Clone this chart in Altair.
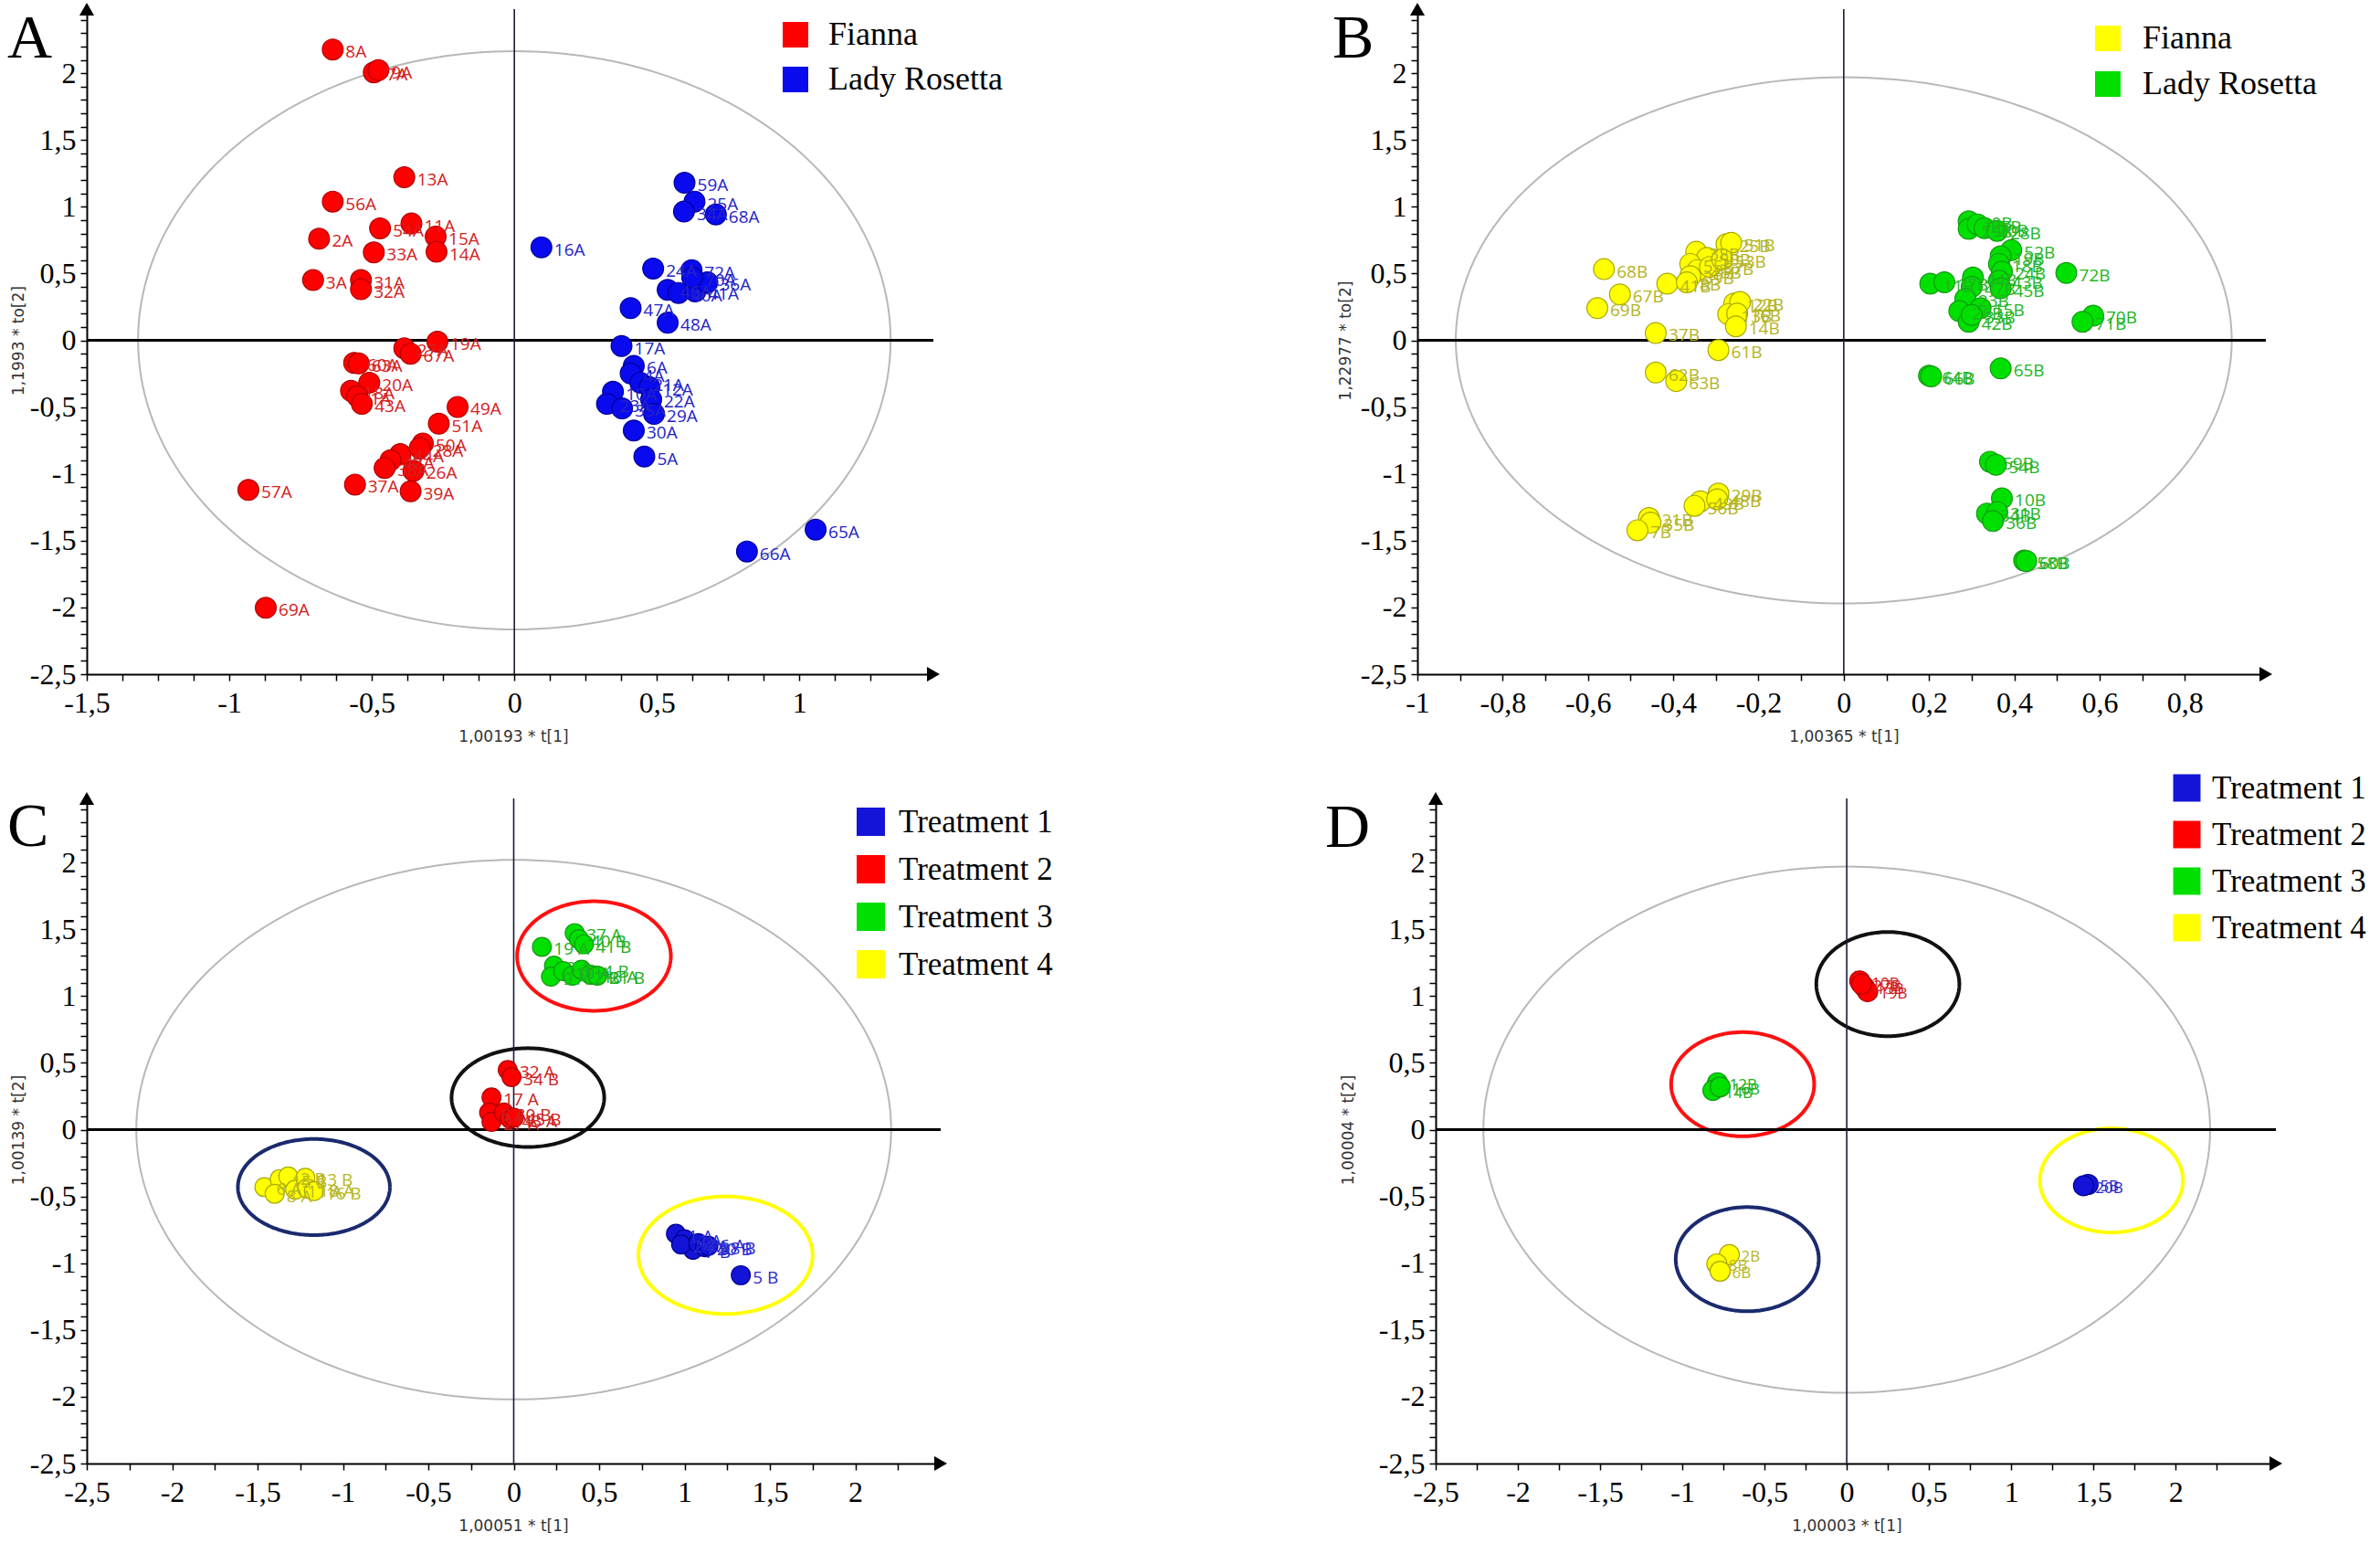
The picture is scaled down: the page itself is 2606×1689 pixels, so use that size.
import altair as alt
import numpy as np
import pandas as pd

# ---------------- Panel A ----------------
A_groups = ["Fianna", "Lady Rosetta"]
A_fill = ["#ff0000", "#0a0aee"]
A_stroke = ["#b00000", "#000099"]
A_text = ["#d42020", "#2424c8"]
A_fi_lab = ["8A","7A","9A","13A","56A","54A","11A","15A","14A","2A","33A","3A","31A","32A",
            "19A","27A","67A","60A","63A","20A","18A","1A","43A","49A","51A","50A","28A","44A","42A","38A","26A","37A","39A","57A","69A"]
A_fi_x = [-0.637,-0.493,-0.477,-0.386,-0.637,-0.471,-0.361,-0.276,-0.273,-0.685,-0.493,-0.706,-0.538,-0.538,
          -0.27,-0.386,-0.364,-0.562,-0.546,-0.509,-0.573,-0.551,-0.535,-0.199,-0.265,-0.321,-0.332,-0.40,-0.434,-0.455,-0.354,-0.559,-0.364,-0.933,-0.872]
A_fi_y = [2.178,2.007,2.023,1.221,1.039,0.839,0.875,0.777,0.663,0.761,0.658,0.451,0.451,0.383,
          -0.01,-0.06,-0.10,-0.169,-0.173,-0.317,-0.378,-0.419,-0.476,-0.499,-0.624,-0.772,-0.807,-0.852,-0.898,-0.955,-0.977,-1.08,-1.13,-1.12,-2.003]
A_lr_lab = ["59A","25A","34A","68A","16A","24A","72A","46A","40A","41A","36A","70A","47A","48A","17A","6A","4A","21A","12A","10A","23A","35A","22A","29A","30A","5A","65A","66A"]
A_lr_x = [0.597,0.632,0.595,0.707,0.095,0.487,0.622,0.538,0.576,0.635,0.677,0.624,0.408,0.538,0.376,0.419,0.408,0.442,0.474,0.346,0.325,0.378,0.48,0.49,0.419,0.456,1.057,0.816]
A_lr_y = [1.180,1.039,0.964,0.943,0.697,0.538,0.526,0.378,0.355,0.367,0.435,0.47,0.241,0.132,-0.043,-0.191,-0.248,-0.317,-0.351,-0.385,-0.476,-0.51,-0.442,-0.551,-0.675,-0.870,-1.417,-1.581]

# ---------------- Panel B ----------------
B_groups = ["Fianna", "Lady Rosetta"]
B_fill = ["#ffff00", "#00e000"]
B_stroke = ["#a8a800", "#119911"]
B_text = ["#b4b41e", "#1fb51f"]
B_fi_lab = ["68B","67B","69B","41B","25B","51B","38B","50B","55B","46B","39B","8B","57B","53B","12B","22B","13B","16B","14B",
            "37B","61B","62B","63B","29B","49B","48B","56B","21B","35B","7B"]
B_fi_x = [-0.5625,-0.525,-0.578,-0.414,-0.275,-0.264,-0.346,-0.321,-0.360,-0.343,-0.360,-0.368,-0.314,-0.285,
          -0.257,-0.243,-0.271,-0.25,-0.253,-0.441,-0.294,-0.441,-0.393,-0.294,-0.336,-0.297,-0.350,-0.457,-0.453,-0.484]
B_fi_y = [0.533,0.344,0.241,0.424,0.720,0.731,0.663,0.617,0.572,0.526,0.481,0.435,0.55,0.606,
          0.276,0.287,0.196,0.20,0.105,0.055,-0.073,-0.241,-0.305,-1.148,-1.205,-1.19,-1.239,-1.331,-1.365,-1.422]
B_lr_lab = ["30B","29B","27B","20B","28B","52B","19B","18B","24B","72B","11B","17B","44B","47B","43B","45B","23B","26B","15B","42B","33B",
            "70B","71B","64B","66B","65B","59B","54B","10B","34B","31B","36B","58B","60B"]
B_lr_x = [0.293,0.293,0.314,0.33,0.36,0.393,0.368,0.364,0.371,0.522,0.203,0.236,0.303,0.30,0.364,0.368,0.285,0.271,0.321,0.293,0.30,
          0.585,0.560,0.20,0.205,0.368,0.343,0.357,0.371,0.336,0.360,0.350,0.423,0.428]
B_lr_y = [0.891,0.834,0.868,0.84,0.82,0.675,0.629,0.572,0.515,0.504,0.424,0.435,0.47,0.40,0.446,0.39,0.31,0.219,0.241,0.139,0.19,
          0.185,0.139,-0.264,-0.27,-0.21,-0.909,-0.932,-1.183,-1.297,-1.285,-1.353,-1.649,-1.652]

# ---------------- Panels C and D (treatments) ----------------
T_groups = ["Treatment 1", "Treatment 2", "Treatment 3", "Treatment 4"]
T_fill = ["#1414d8", "#ff0000", "#00e000", "#ffff00"]
T_stroke = ["#000090", "#b00000", "#119911", "#a8a800"]
T_text = ["#2a2ad0", "#d02020", "#20b020", "#b8b820"]

C_t1_lab = ["1 A","4 A","7 B","24 A","26 A","20 B","28 B","5 B"]
C_t1_x = [0.95,1.00,1.05,0.98,1.08,1.12,1.14,1.33]
C_t1_y = [-0.78,-0.82,-0.90,-0.86,-0.85,-0.88,-0.87,-1.09]
C_t2_lab = ["32 A","34 B","17 A","6 A","27 A","30 B","43 A","45 B"]
C_t2_x = [-0.035,-0.013,-0.13,-0.144,-0.13,-0.058,-0.022,0.0]
C_t2_y = [0.446,0.394,0.241,0.128,0.059,0.128,0.082,0.09]
C_t3_lab = ["19 A","37 A","40 B","41 B","3 A","9 A","10 A","12 B","14 B","16 A","21 B"]
C_t3_x = [0.165,0.357,0.382,0.411,0.236,0.218,0.29,0.343,0.397,0.45,0.49]
C_t3_y = [1.369,1.472,1.427,1.388,1.228,1.146,1.187,1.153,1.198,1.160,1.153]
C_t4_lab = ["6 A","15 B","2 B","8 A","11 A","13 B","18 A","16 B"]
C_t4_x = [-1.46,-1.37,-1.32,-1.40,-1.28,-1.22,-1.21,-1.17]
C_t4_y = [-0.43,-0.37,-0.35,-0.48,-0.45,-0.36,-0.44,-0.46]

D_t1_lab = ["5B","20B"]
D_t1_x = [1.468,1.44]
D_t1_y = [-0.41,-0.42]
D_t2_lab = ["10B","13B","19B","27B"]
D_t2_x = [0.079,0.107,0.127,0.09]
D_t2_y = [1.114,1.068,1.034,1.09]
D_t3_lab = ["12B","14B","16B"]
D_t3_x = [-0.786,-0.814,-0.77]
D_t3_y = [0.351,0.294,0.32]
D_t4_lab = ["2B","8B","6B"]
D_t4_x = [-0.714,-0.79,-0.77]
D_t4_y = [-0.936,-1.005,-1.06]

# ellipses: (cx, cy, rx, ry, colour)
A_gray = (0.0, 0.0, 1.32, 2.165)
B_gray = (0.0, 0.0, 0.91, 1.97)
C_gray = (0.0, 0.0, 2.21, 2.02)
D_gray = (0.0, 0.0, 2.21, 1.97)
C_rings = [(0.47, 1.30, 0.45, 0.41, "#ff1010"), (0.083, 0.24, 0.447, 0.37, "#111111"),
           (-1.17, -0.43, 0.445, 0.36, "#1a2a6e"), (1.24, -0.94, 0.51, 0.44, "#ffff00")]
D_rings = [(0.25, 1.09, 0.435, 0.39, "#111111"), (-0.633, 0.34, 0.435, 0.39, "#ff1010"),
           (1.61, -0.38, 0.435, 0.39, "#ffff00"), (-0.605, -0.97, 0.435, 0.39, "#1a2a6e")]

SERIF = "Liberation Serif"
SANS = "Open Sans"


def ticks(lo, hi, step):
    n = int(np.floor((hi - lo) / step + 1e-9))
    return [float(round(lo + i * step, 6)) or 0.0 for i in range(n + 1)]


def lab_expr(major):
    return (f"abs(datum.value/{major} - round(datum.value/{major})) < 0.001 ? "
            "replace(replace(format(datum.value, '~g'), '.', ','), '\u2212', '-') : ''")


def ellipse_df(specs):
    t = np.linspace(0, 2 * np.pi, 241)
    rows = []
    for k, (cx, cy, rx, ry, col) in enumerate(specs):
        for i, tt in enumerate(t):
            rows.append({"e": k, "o": i, "x": cx + rx * np.cos(tt), "y": cy + ry * np.sin(tt), "col": col})
    return pd.DataFrame(rows)


def pts_df(groups, strokes, texts, series):
    rows = []
    for gi, (labs, xs, ys) in enumerate(series):
        for l, x, y in zip(labs, xs, ys):
            rows.append({"g": groups[gi], "lab": l, "x": x, "y": y, "sc": strokes[gi], "col": texts[gi]})
    return pd.DataFrame(rows)


def panel(pts, groups, fills, gray, rings, xdom, ydom, xmaj, xstep, w, h, psize, lsize, ldx,
          letter, letter_xy, xtitle, xtitle_x, ytitle, ytitle_x, leg):
    xt = ticks(xdom[0], xdom[1] - 0.16, xstep)
    yt = ticks(ydom[0], ydom[1] - 0.05, 0.1)
    y0px = (ydom[1] / (ydom[1] - ydom[0])) * h
    ax_common = dict(domainColor="black", domainWidth=2, tickColor="black", tickWidth=1.5, tickSize=7,
                     labelFont=SERIF, labelFontSize=32, labelColor="black", labelOverlap=False,
                     labelFlush=False, labelBound=False, grid=False,
                     titleFont="DejaVu Sans", titleFontSize=17, titleFontWeight="normal", titleColor="#333333",
                     titleAlign="center", titleBaseline="middle")
    X = alt.X("x:Q", scale=alt.Scale(domain=xdom, nice=False, zero=False),
              axis=alt.Axis(values=xt, labelExpr=lab_expr(xmaj), title=xtitle, titleX=xtitle_x, titleY=68,
                            labelPadding=9, **ax_common))
    Y = alt.Y("y:Q", scale=alt.Scale(domain=ydom, nice=False, zero=False),
              axis=alt.Axis(values=yt, labelExpr=lab_expr(0.5), title=ytitle, titleX=ytitle_x, titleY=y0px,
                            titleAngle=270, labelPadding=5, **ax_common))

    gdf = ellipse_df([gray + ("#b8b8b8",)])
    layers = [alt.Chart(gdf).mark_line(color="#b8b8b8", strokeWidth=2).encode(x=X, y=Y, order="o:Q")]
    if rings:
        rdf = ellipse_df(rings)
        layers.append(alt.Chart(rdf).mark_line(strokeWidth=4).encode(
            x=X, y=Y, order="o:Q", detail="e:N", color=alt.Color("col:N", scale=None)))

    hz = pd.DataFrame({"x": [xdom[0]], "x2": [xdom[1]], "y": [0.0]})
    vt = pd.DataFrame({"x": [0.0], "y": [ydom[0]], "y2": [ydom[1]]})
    layers.append(alt.Chart(hz).mark_rule(color="black", strokeWidth=3).encode(x=X, x2=alt.X2("x2"), y=Y))
    layers.append(alt.Chart(vt).mark_rule(color="#1a1a3a", strokeWidth=1.6).encode(x=X, y=Y, y2=alt.Y2("y2")))

    legend = alt.Legend(orient="none", legendX=leg["x"], legendY=leg["y"], title=None, symbolType="square",
                        symbolSize=leg["sym"], symbolStrokeWidth=0, symbolOpacity=1, labelFont=SERIF,
                        labelFontSize=leg["fs"], labelColor="black", labelOffset=leg["off"],
                        rowPadding=leg["row"], padding=0, labelLimit=0)
    layers.append(alt.Chart(pts).mark_circle(size=psize, opacity=1, strokeWidth=1.2).encode(
        x=X, y=Y,
        fill=alt.Fill("g:N", scale=alt.Scale(domain=groups, range=fills), legend=legend),
        stroke=alt.Stroke("sc:N", scale=None)))
    layers.append(alt.Chart(pts).mark_text(align="left", baseline="middle", dx=ldx, dy=3, font=SANS,
                                           fontSize=lsize).encode(
        x=X, y=Y, text="lab:N", color=alt.Color("col:N", scale=None)))

    arr = pd.DataFrame({"x": [xdom[1], xdom[0]], "y": [ydom[0], ydom[1]], "shp": ["triangle-right", "triangle-up"]})
    layers.append(alt.Chart(arr).mark_point(filled=True, color="black", size=260, opacity=1).encode(
        x=X, y=Y, shape=alt.Shape("shp:N", scale=None)))

    layers.append(alt.Chart(pd.DataFrame({"t": [letter]})).mark_text(
        font=SERIF, fontSize=68, align="left", baseline="alphabetic", color="black").encode(
        text="t:N", x=alt.value(letter_xy[0]), y=alt.value(letter_xy[1])))

    return alt.layer(*layers).properties(width=w, height=h)


ydom = [-2.5, 2.48]

pA = panel(pts_df(A_groups, A_stroke, A_text, [(A_fi_lab, A_fi_x, A_fi_y), (A_lr_lab, A_lr_x, A_lr_y)]),
           A_groups, A_fill, A_gray, None, [-1.5, 1.47], ydom, 0.5, 0.125, 927, 728, 520, 19, 14,
           "A", (-87, 53), "1,00193 * t[1]", 467, "1,1993 * to[2]", -75,
           dict(x=758, y=10, sym=784, fs=36, off=18, row=13))
pB = panel(pts_df(B_groups, B_stroke, B_text, [(B_fi_lab, B_fi_x, B_fi_y), (B_lr_lab, B_lr_x, B_lr_y)]),
           B_groups, B_fill, B_gray, None, [-1.0, 0.99], ydom, 0.2, 0.1, 929, 728, 520, 19, 14,
           "B", (-93, 53), "1,00365 * t[1]", 467, "1,22977 * to[2]", -79,
           dict(x=738, y=14, sym=784, fs=36, off=20, row=14))
pC = panel(pts_df(T_groups, T_stroke, T_text, [(C_t1_lab, C_t1_x, C_t1_y), (C_t2_lab, C_t2_x, C_t2_y),
                                                (C_t3_lab, C_t3_x, C_t3_y), (C_t4_lab, C_t4_x, C_t4_y)]),
           T_groups, T_fill, C_gray, C_rings, [-2.5, 2.5], ydom, 0.5, 0.25, 935, 728, 430, 19, 13,
           "C", (-87, 52), "1,00051 * t[1]", 467, "1,00139 * t[2]", -75,
           dict(x=841, y=8, sym=961, fs=35, off=13, row=16))
pD = panel(pts_df(T_groups, T_stroke, T_text, [(D_t1_lab, D_t1_x, D_t1_y), (D_t2_lab, D_t2_x, D_t2_y),
                                                (D_t3_lab, D_t3_x, D_t3_y), (D_t4_lab, D_t4_x, D_t4_y)]),
           T_groups, T_fill, D_gray, D_rings, [-2.5, 2.61], ydom, 0.5, 0.25, 920, 728, 480, 17, 13,
           "D", (-121, 53), "1,00003 * t[1]", 450, "1,00004 * t[2]", -96,
           dict(x=805, y=-29, sym=900, fs=35, off=10, row=15))

res = dict(x="independent", y="independent", fill="independent")
top = alt.hconcat(pA, pB, spacing=530, bounds="flush").resolve_scale(**res).resolve_legend(fill="independent")
bottom = alt.hconcat(pC, pD, spacing=542, bounds="flush").resolve_scale(**res).resolve_legend(fill="independent")
# nested rows are treated as zero height with flush bounds, so the spacing carries the row height
chart = (alt.vconcat(top, bottom, spacing=864, bounds="flush")
         .resolve_scale(**res).resolve_legend(fill="independent")
         .properties(padding={"left": 8, "top": 3, "right": 0, "bottom": 0}, background="white")
         .configure_view(stroke=None))

chart.save("out.html", embed_options={"renderer": "svg", "actions": False})
